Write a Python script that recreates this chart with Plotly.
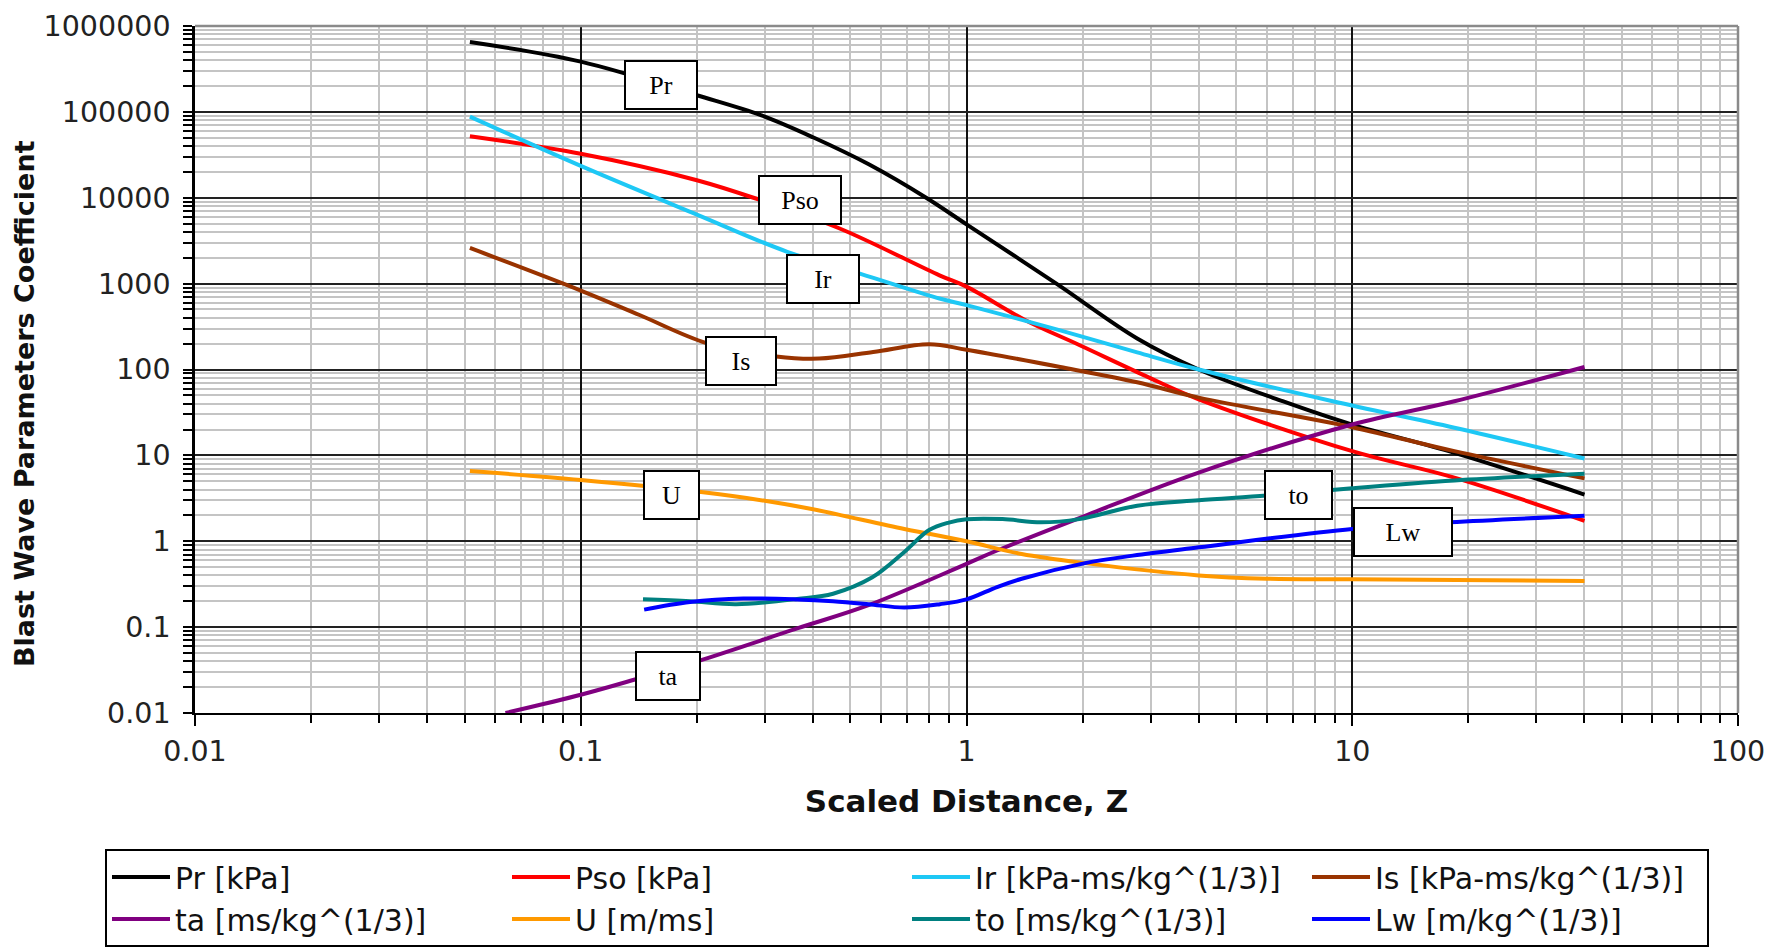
import numpy as np
import plotly.graph_objects as go

# ---------------- data ----------------
pr_z = [0.0516, 0.1, 0.2, 0.294, 0.4, 0.558, 0.786, 1.0, 1.71, 2.77, 4.0, 6.6, 10, 18.4, 40]
pr_v = [650000, 385000, 156000, 91000, 50600, 24500, 10000, 4900, 1000, 230, 100, 42.7, 22.8, 10.7, 3.5]

pso_z = [0.0516, 0.1, 0.2, 0.29, 0.469, 0.851, 1.0, 1.426, 1.96, 2.9, 4.0, 10, 18.4, 40]
pso_v = [52000, 32500, 16000, 9500, 4385, 1250, 923, 372, 193, 85, 45, 11.2, 5.5, 1.73]

ir_z = [0.0516, 0.1, 0.2, 0.343, 0.529, 0.851, 1.0, 1.75, 2.77, 4.0, 8.9, 18.4, 40]
ir_v = [88000, 23500, 6370, 2350, 1310, 671, 562, 286, 158, 100, 42.7, 21, 9.2]

is_z = [0.0516, 0.1, 0.142, 0.212, 0.321, 0.415, 0.573, 0.8, 1.0, 1.75, 2.77, 4.0, 10, 18.4, 40]
is_v = [2600, 830, 431, 203, 142, 134, 160, 197, 170, 107, 71, 47, 21.3, 11.2, 5.4]

ta_z = [0.0638, 0.1, 0.142, 0.2, 0.364, 0.557, 1.0, 1.2, 2.03, 4.0, 10, 18.4, 40]
ta_v = [0.01, 0.0163, 0.0254, 0.0398, 0.0966, 0.18, 0.546, 0.78, 1.98, 6.3, 22.9, 42.7, 107]

u_z = [0.0516, 0.1, 0.2, 0.30, 0.397, 0.69, 1.0, 1.39, 2.03, 4.0, 6.0, 10, 40]
u_v = [6.58, 5.18, 3.79, 2.96, 2.37, 1.39, 1.0, 0.71, 0.556, 0.40, 0.366, 0.36, 0.344]

to_z = [0.145, 0.192, 0.253, 0.364, 0.451, 0.57, 0.69, 0.8, 0.9, 1.0, 1.24, 1.56, 1.96, 2.77, 4.0, 6.0, 10, 18.4, 40]
to_v = [0.211, 0.20, 0.185, 0.213, 0.245, 0.38, 0.75, 1.35, 1.65, 1.8, 1.81, 1.66, 1.81, 2.59, 3.0, 3.4, 4.15, 5.1, 6.13]

lw_z = [0.146, 0.192, 0.264, 0.364, 0.451, 0.557, 0.69, 0.853, 1.0, 1.2, 1.39, 2.03, 2.7, 4.0, 10, 17.9, 40]
lw_v = [0.16, 0.196, 0.215, 0.21, 0.20, 0.185, 0.169, 0.185, 0.21, 0.293, 0.366, 0.556, 0.68, 0.85, 1.39, 1.66, 1.98]

series_names = ["Pr [kPa]", "Pso [kPa]", "Ir [kPa-ms/kg^(1/3)]", "Is [kPa-ms/kg^(1/3)]",
                "ta [ms/kg^(1/3)]", "U [m/ms]", "to [ms/kg^(1/3)]", "Lw [m/kg^(1/3)]"]
series_colors = ["#000000", "#ff0000", "#1ec8f5", "#993300", "#800080", "#ff9900", "#008080", "#0000ff"]

# curve labels (boxes on the chart)
label_text = ["Pr", "Pso", "Ir", "Is", "U", "ta", "to", "Lw"]
label_z = [0.161, 0.371, 0.425, 0.26, 0.172, 0.168, 7.25, 13.5]
label_v = [205000, 9400, 1140, 126, 3.5, 0.027, 3.45, 1.27]
label_w = [70, 80, 70, 68, 53, 62, 65, 96]

x_tick_vals = [0.01, 0.1, 1, 10, 100]
x_tick_text = ["0.01", "0.1", "1", "10", "100"]
y_tick_vals = [0.01, 0.1, 1, 10, 100, 1000, 10000, 100000, 1000000]
y_tick_text = ["0.01", "0.1", "1", "10", "100", "1000", "10000", "100000", "1000000"]

x_title = "Scaled Distance, Z"
y_title = "Blast Wave Parameters Coefficient"

# --------------------------------------------------------------------
xs = [pr_z, pso_z, ir_z, is_z, ta_z, u_z, to_z, lw_z]
ys = [pr_v, pso_v, ir_v, is_v, ta_v, u_v, to_v, lw_v]

fig = go.Figure()
for name, z, v, c in zip(series_names, xs, ys, series_colors):
    fig.add_trace(go.Scatter(x=z, y=v, mode="lines", name=name,
                             line=dict(color=c, width=4, shape="spline", smoothing=1.0)))

x_minor = [m * 10.0 ** e for e in range(-2, 2) for m in range(2, 10)]
y_minor = [m * 10.0 ** e for e in range(-2, 6) for m in range(2, 10)]

tickfont = dict(family="DejaVu Sans", size=28.5, color="#222222")

L, R, T, B = 195, 37, 26, 234
W, H = 1775, 947
pw, ph = W - L - R, H - T - B

fig.update_layout(
    width=W, height=H,
    margin=dict(l=L, r=R, t=T, b=B, autoexpand=False),
    paper_bgcolor="white", plot_bgcolor="white",
    showlegend=True,
    xaxis=dict(
        type="log", range=[-2, 2], tickmode="array", tickvals=x_tick_vals, ticktext=x_tick_text,
        ticks="outside", ticklen=11, tickwidth=2, tickcolor="black",
        showline=True, linecolor="black", linewidth=2, zeroline=False,
        showgrid=True, gridcolor="#111111", gridwidth=1.5,
        minor=dict(tickmode="array", tickvals=x_minor, ticks="outside", ticklen=8,
                   tickwidth=2, tickcolor="black", showgrid=True, gridcolor="#c4c4c4", gridwidth=1.5),
        tickfont=tickfont, ticklabelstandoff=1, automargin=False,
        title=dict(text=x_title, standoff=23,
                   font=dict(family="DejaVu Sans", size=31, weight="bold", color="#111111")),
    ),
    yaxis=dict(
        type="log", range=[-2, 6], tickmode="array", tickvals=y_tick_vals, ticktext=y_tick_text,
        ticks="outside", ticklen=9, tickwidth=2, tickcolor="black",
        showline=True, linecolor="black", linewidth=2.5, zeroline=False,
        showgrid=True, gridcolor="#222222", gridwidth=2,
        minor=dict(tickmode="array", tickvals=y_minor, ticks="outside", ticklen=9,
                   tickwidth=2, tickcolor="black", showgrid=True, gridcolor="#c4c4c4", gridwidth=1.5),
        tickfont=tickfont, ticklabelstandoff=7, automargin=False,
    ),
    xaxis2=dict(type="log", range=[-2, 2], overlaying="x", anchor="y", side="bottom",
                tickmode="array", tickvals=x_tick_vals, ticks="inside", ticklen=8, tickwidth=2,
                tickcolor="black", showticklabels=False, showgrid=False, showline=False, zeroline=False,
                minor=dict(tickmode="array", tickvals=x_minor, ticks="inside", ticklen=8,
                           tickwidth=2, tickcolor="black", showgrid=False)),
    yaxis2=dict(type="log", range=[-2, 6], overlaying="y", anchor="x", side="left",
                tickmode="array", tickvals=y_tick_vals, ticks="inside", ticklen=9, tickwidth=2,
                tickcolor="black", showticklabels=False, showgrid=False, showline=False, zeroline=False,
                minor=dict(tickmode="array", tickvals=y_minor, ticks="inside", ticklen=9,
                           tickwidth=2, tickcolor="black", showgrid=False)),
    legend=dict(
        orientation="h", x=(105 - L) / pw, xanchor="left", y=(H - B - 849) / ph, yanchor="top",
        bordercolor="black", borderwidth=2, bgcolor="white",
        font=dict(family="DejaVu Sans", size=30, color="#111111"),
        entrywidth=327, entrywidthmode="pixels", itemwidth=58, tracegroupgap=0,
    ),
)

# y-axis title (placed as rotated text, slightly below the plot centre as in the reference)
fig.add_annotation(text=y_title, xref="paper", yref="paper",
                   x=(25 - L) / pw, y=(H - B - 404) / ph, xanchor="center", yanchor="middle",
                   textangle=-90, showarrow=False,
                   font=dict(family="DejaVu Sans", size=27, weight="bold", color="#111111"))

# gray frame on top and right of plotting area
fig.add_shape(type="line", xref="paper", yref="paper", x0=0, x1=1, y0=1, y1=1,
              line=dict(color="#8a8a8a", width=2.5))
fig.add_shape(type="line", xref="paper", yref="paper", x0=1, x1=1, y0=0, y1=1,
              line=dict(color="#8a8a8a", width=2.5))

for t, z, v, w in zip(label_text, label_z, label_v, label_w):
    fig.add_annotation(x=np.log10(z), y=np.log10(v), xref="x", yref="y", text=t, showarrow=False,
                       font=dict(family="Liberation Serif", size=26, color="black"),
                       bgcolor="white", bordercolor="black", borderwidth=2, borderpad=0,
                       width=w, height=46)

fig.write_html("out.html")
